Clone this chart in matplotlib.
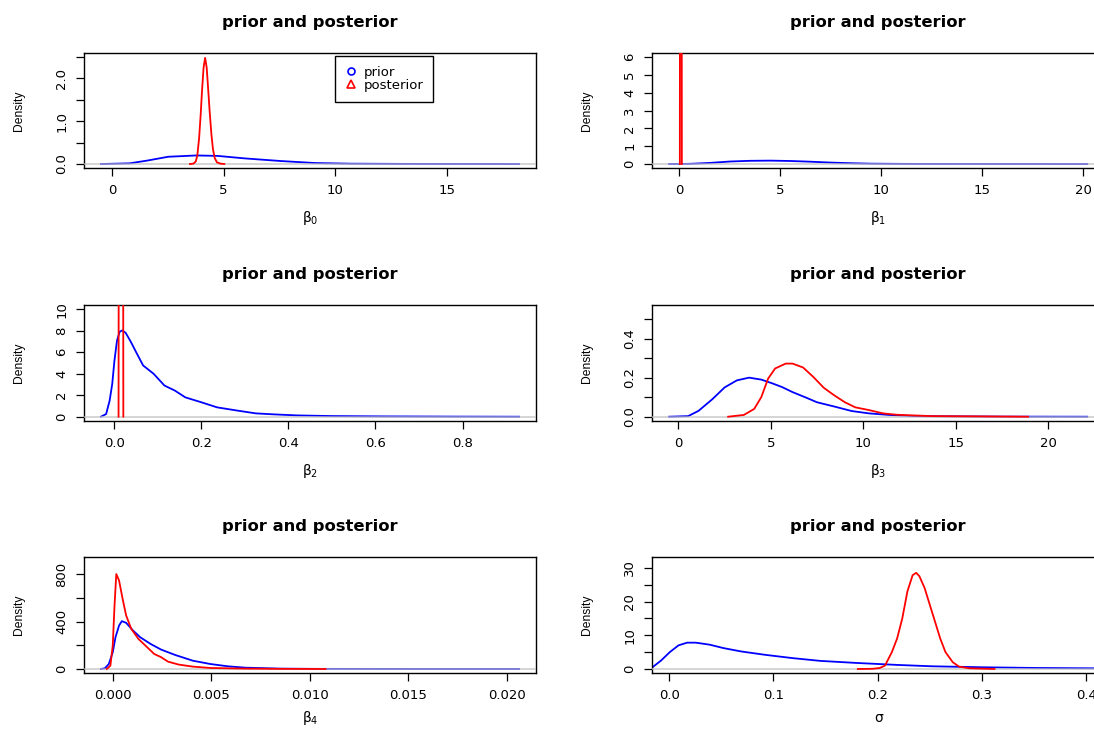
import matplotlib
matplotlib.use("Agg")
import matplotlib.pyplot as plt
from matplotlib.lines import Line2D
import numpy as np

plt.rcParams['font.family'] = ['DejaVu Sans']
plt.rcParams['mathtext.fontset'] = 'dejavusans'

# ---------------- data ----------------
# beta0
b0_prior_x = [-0.5, 0.79, 1.57, 2.52, 3.78, 4.72, 5.98, 7.56, 9.1, 10.7, 13.0, 15.5, 18.24]
b0_prior_y = [0.0, 0.016, 0.08, 0.17, 0.2, 0.19, 0.13, 0.07, 0.023, 0.008, 0.003, 0.001, 0.0]
b0_post_x = [3.49, 3.65, 3.75, 3.82, 3.9, 3.97, 4.03, 4.1, 4.17, 4.24, 4.3, 4.37, 4.45, 4.52,
             4.6, 4.7, 4.85, 5.03]
b0_post_y = [0.0, 0.01, 0.06, 0.2, 0.6, 1.15, 1.7, 2.25, 2.48, 2.25, 1.8, 1.25, 0.7, 0.35,
             0.14, 0.04, 0.01, 0.0]

# beta1
b1_prior_x = [-0.5, 0.5, 1.5, 2.5, 3.5, 4.5, 5.5, 6.5, 7.5, 8.5, 9.5, 11.0, 13.0, 16.0, 20.2]
b1_prior_y = [0.0, 0.01, 0.06, 0.14, 0.18, 0.19, 0.17, 0.13, 0.08, 0.045, 0.02, 0.008, 0.003, 0.001, 0.0]
b1_post_x = [0.03, 0.05, 0.07, 0.09, 0.11, 0.13]
b1_post_y = [0.0, 30.0, 60.0, 60.0, 30.0, 0.0]

# beta2
b2_prior_x = [-0.031, -0.019, -0.011, -0.005, 0.0, 0.006, 0.012, 0.018, 0.026, 0.038, 0.05,
              0.066, 0.09, 0.115, 0.139, 0.163, 0.2, 0.236, 0.284, 0.325, 0.365, 0.42, 0.5,
              0.62, 0.785, 0.93]
b2_prior_y = [0.0, 0.25, 1.5, 3.05, 5.2, 7.1, 7.9, 8.04, 7.8, 6.95, 6.0,
              4.77, 4.0, 2.9, 2.43, 1.8, 1.34, 0.87, 0.56, 0.31, 0.22, 0.12, 0.06,
              0.03, 0.01, 0.0]
b2_post_x = [0.0095, 0.0105, 0.012, 0.015, 0.018, 0.0195, 0.0205]
b2_post_y = [0.0, 40.0, 110.0, 140.0, 110.0, 40.0, 0.0]

# beta3
b3_prior_x = [-0.5, 0.53, 1.09, 1.84, 2.5, 3.16, 3.82, 4.48, 5.04, 5.6, 6.17, 6.92, 7.49,
              8.43, 9.37, 10.3, 11.4, 12.75, 14.6, 17.5, 22.1]
b3_prior_y = [0.0, 0.003, 0.03, 0.09, 0.15, 0.186, 0.2, 0.19, 0.172, 0.152, 0.126, 0.097, 0.074,
              0.052, 0.029, 0.017, 0.009, 0.003, 0.002, 0.0005, 0.0]
b3_post_x = [2.69, 3.54, 4.1, 4.48, 4.85, 5.23, 5.8, 6.17, 6.74, 7.3, 7.86, 8.43, 9.0,
             9.56, 10.3, 11.06, 11.8, 13.7, 15.6, 18.9]
b3_post_y = [0.0, 0.009, 0.04, 0.1, 0.195, 0.247, 0.272, 0.272, 0.252, 0.203, 0.148, 0.109, 0.074,
             0.048, 0.034, 0.017, 0.01, 0.003, 0.002, 0.0]

# beta4
b4_prior_x = [-0.0006, -0.0004, -0.0002, 0.0, 0.00014, 0.00032, 0.00046, 0.00068, 0.00103,
              0.00139, 0.00192, 0.00246, 0.00317, 0.00406, 0.00495, 0.00584, 0.00673, 0.0085,
              0.0103, 0.0140, 0.02062]
b4_prior_y = [0.0, 5.6, 42.0, 141.0, 268.0, 366.0, 403.0, 389.0, 324.0,
              268.0, 211.0, 163.0, 118.0, 70.0, 42.0, 22.5, 11.0, 3.0,
              1.0, 0.3, 0.0]
b4_post_x = [-0.0003, -0.00012, 0.0, 0.00009, 0.00018, 0.00032, 0.0005, 0.00068, 0.00094,
             0.0013, 0.00166, 0.0021, 0.00246, 0.0028, 0.00335, 0.00406, 0.00495, 0.0067,
             0.0085, 0.0108]
b4_post_y = [0.0, 28.0, 197.0, 535.0, 800.0, 746.0, 592.0, 451.0, 338.0,
             254.0, 197.0, 127.0, 99.0, 62.0, 37.0, 20.0, 8.5, 3.0,
             1.0, 0.0]

# sigma
s_prior_x = [-0.02, -0.016, -0.0077, 0.0007, 0.009, 0.0173, 0.0256, 0.039, 0.052, 0.069, 0.092,
             0.119, 0.145, 0.179, 0.219, 0.252, 0.302, 0.352, 0.407, 0.45]
s_prior_y = [0.2, 0.5, 2.5, 5.0, 7.0, 7.8, 7.8, 7.2, 6.2, 5.2, 4.2,
             3.2, 2.4, 1.8, 1.2, 0.8, 0.5, 0.3, 0.2, 0.15]
s_post_x = [0.181, 0.195, 0.202, 0.207, 0.2136, 0.2186, 0.2236, 0.2285, 0.2335, 0.2369, 0.240,
            0.245, 0.250, 0.255, 0.260, 0.265, 0.272, 0.278, 0.288, 0.312]
s_post_y = [0.0, 0.05, 0.3, 1.0, 5.0, 9.0, 15.0, 23.0, 27.8, 28.5, 27.5,
            24.0, 19.0, 14.0, 9.0, 5.0, 2.0, 0.7, 0.2, 0.0]

# axis settings per panel
x_labels = ['β$_0$', 'β$_1$', 'β$_2$', 'β$_3$', 'β$_4$', 'σ']
y_max = [2.5, 6, 10, 0.55, 910, 32]
y_ticks = [[0, 0.5, 1.0, 1.5, 2.0, 2.5], [0, 1, 2, 3, 4, 5, 6], [0, 2, 4, 6, 8, 10],
           [0, 0.1, 0.2, 0.3, 0.4, 0.5], [0, 200, 400, 600, 800], [0, 5, 10, 15, 20, 25, 30]]
y_ticklabels = [['0.0', '', '1.0', '', '2.0', ''], ['0', '1', '2', '3', '4', '5', '6'],
                ['0', '2', '4', '6', '8', '10'], ['0.0', '', '0.2', '', '0.4', ''],
                ['0', '', '400', '', '800'], ['0', '', '10', '', '20', '', '30']]
x_ticks = [[0, 5, 10, 15], [0, 5, 10, 15, 20], [0, 0.2, 0.4, 0.6, 0.8], [0, 5, 10, 15, 20],
           [0, 0.005, 0.010, 0.015, 0.020], [0, 0.1, 0.2, 0.3, 0.4]]
x_ticklabels = [['0', '5', '10', '15'], ['0', '5', '10', '15', '20'],
                ['0.0', '0.2', '0.4', '0.6', '0.8'], ['0', '5', '10', '15', '20'],
                ['0.000', '0.005', '0.010', '0.015', '0.020'], ['0.0', '0.1', '0.2', '0.3', '0.4']]
sigma_xlim = [-0.016, 0.417]

priors = [(b0_prior_x, b0_prior_y), (b1_prior_x, b1_prior_y), (b2_prior_x, b2_prior_y),
          (b3_prior_x, b3_prior_y), (b4_prior_x, b4_prior_y), (s_prior_x, s_prior_y)]
posts = [(b0_post_x, b0_post_y), (b1_post_x, b1_post_y), (b2_post_x, b2_post_y),
         (b3_post_x, b3_post_y), (b4_post_x, b4_post_y), (s_post_x, s_post_y)]

# ---------------- layout ----------------
W, H = 1094, 729
fig = plt.figure(figsize=(W / 100, H / 100), dpi=100)
col_x0 = [84.2, 652.4]
ax_w = 451.6
row_y = [(52.7, 168.3), (305.0, 421.0), (556.7, 673.3)]
xlab_off = [50.0, 50.0, 44.0]


def rpad(lo, hi):
    r = hi - lo
    return lo - 0.04 * r, hi + 0.04 * r


for i in range(6):
    r, c = divmod(i, 2)
    top, bot = row_y[r]
    ax = fig.add_axes([col_x0[c] / W, 1 - bot / H, ax_w / W, (bot - top) / H])
    px, py = priors[i]
    qx, qy = posts[i]
    ax.plot(px, py, color='#0000ff', lw=1.3, zorder=2)
    ax.axhline(0, color='#bebebe', lw=1.2, alpha=0.75, zorder=3)
    ax.plot(qx, qy, color='#ff0000', lw=1.3, zorder=4)

    if i == 5:
        ax.set_xlim(*sigma_xlim)
    else:
        ax.set_xlim(*rpad(min(px), max(px)))
    ax.set_ylim(*rpad(0, y_max[i]))

    ax.set_xticks(x_ticks[i])
    ax.set_xticklabels(x_ticklabels[i])
    ax.set_yticks(y_ticks[i])
    ax.set_yticklabels(y_ticklabels[i], rotation=90, va='center')
    ax.tick_params(axis='both', direction='out', length=5.5, width=0.9, labelsize=9.5,
                   color='black')
    ax.tick_params(axis='x', pad=6)
    ax.tick_params(axis='y', pad=6)
    for s in ax.spines.values():
        s.set_linewidth(1.0)
        s.set_color('black')

    ax.set_xlabel(x_labels[i], fontsize=10)
    ax.xaxis.label.set_va('center')
    ax.xaxis.set_label_coords(0.5, -xlab_off[r] / 115.6)
    ax.set_ylabel('Density', fontsize=8.7, family='Liberation Sans')
    ax.yaxis.label.set_va('center')
    ax.yaxis.set_label_coords(-(84.2 - 19) / ax_w, 0.5)
    ax.text(0.5, 1 + 30 / 115.6, 'prior and posterior', transform=ax.transAxes,
            ha='center', va='center', fontsize=11.8, fontweight='bold')

    if i == 0:
        handles = [Line2D([], [], ls='', marker='o', mfc='none', mec='#0000ff', ms=5, mew=1.2),
                   Line2D([], [], ls='', marker='^', mfc='none', mec='#ff0000', ms=6, mew=1.2)]
        leg = ax.legend(handles, ['prior', 'posterior'], loc='upper left',
                        bbox_to_anchor=((335 - 84.2) / ax_w, (168.3 - 56) / 115.6),
                        fontsize=9.5, frameon=True, fancybox=False, framealpha=1,
                        edgecolor='black', borderpad=0.75, labelspacing=-0.02,
                        handlelength=0.9, handletextpad=0.5, borderaxespad=0)
        leg.get_frame().set_linewidth(1.0)

fig.savefig('out.png', dpi=100)
